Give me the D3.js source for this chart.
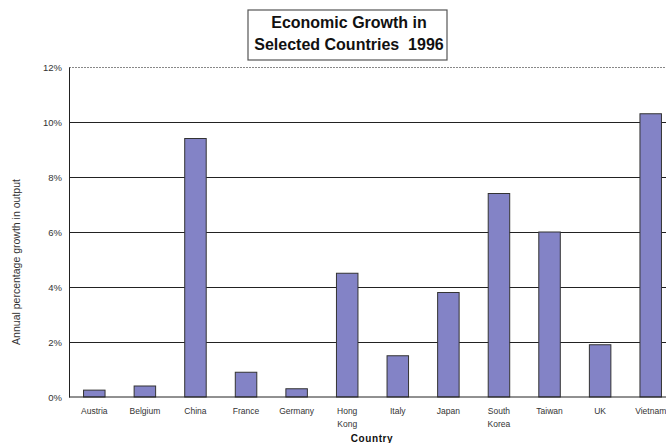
<!doctype html>
<html>
<head>
<meta charset="utf-8"/>
<title>Economic Growth in Selected Countries 1996</title>
<script src="https://d3js.org/d3.v7.min.js"></script>
<style>
  body { margin: 0; background: #fff; }
  text { font-family: "Liberation Sans", Arial, sans-serif; }
</style>
</head>
<body>
<div id="chart"></div>
<script>
// data
var countries = ["Austria", "Belgium", "China", "France", "Germany", "Hong Kong",
  "Italy", "Japan", "South Korea", "Taiwan", "UK", "Vietnam"];
var growth = [0.25, 0.4, 9.4, 0.9, 0.3, 4.5, 1.5, 3.8, 7.4, 6.0, 1.9, 10.3];
var yTicks = [0, 2, 4, 6, 8, 10, 12];
var titleLines = ["Economic Growth in", "Selected Countries  1996"];

var W = 666, H = 443;
var plotLeft = 69, plotRight = 676, plotTop = 67, plotBottom = 397;

var svg = d3.select("#chart").append("svg")
  .attr("width", W)
  .attr("height", H);

var x = d3.scaleBand()
  .domain(countries)
  .range([plotLeft, plotRight])
  .paddingInner(0.575)
  .paddingOuter(0.2875);

var y = d3.scaleLinear()
  .domain([0, 12])
  .range([plotBottom, plotTop]);

// gridlines
svg.append("g").selectAll("line")
  .data(yTicks.filter(function(d) { return d > 0; }))
  .enter().append("line")
  .attr("x1", plotLeft)
  .attr("x2", W)
  .attr("y1", function(d) { return y(d) + 0.5; })
  .attr("y2", function(d) { return y(d) + 0.5; })
  .attr("stroke", function(d) { return d == 12 ? "#888" : "#222"; })
  .attr("stroke-dasharray", function(d) { return d == 12 ? "2,1" : null; })
  .attr("stroke-width", 1);

// y axis
var yAxis = d3.axisLeft(y)
  .tickValues(yTicks)
  .tickSize(0)
  .tickPadding(7)
  .tickFormat(function(d) { return d + "%"; });

var gy = svg.append("g")
  .attr("transform", "translate(" + plotLeft + ",0)")
  .call(yAxis);
gy.select(".domain").attr("stroke", "#222");
gy.selectAll("text")
  .attr("font-size", "9.5px")
  .attr("fill", "#333")
  .style("font-family", "Liberation Sans, Arial, sans-serif");

// bars
svg.append("g").selectAll("rect")
  .data(countries)
  .enter().append("rect")
  .attr("x", function(d) { return x(d); })
  .attr("y", function(d, i) { return y(growth[i]); })
  .attr("width", x.bandwidth())
  .attr("height", function(d, i) { return plotBottom - y(growth[i]); })
  .attr("fill", "#8383c6")
  .attr("stroke", "#333")
  .attr("stroke-width", 1);

// baseline
svg.append("line")
  .attr("x1", plotLeft).attr("x2", W)
  .attr("y1", plotBottom).attr("y2", plotBottom)
  .attr("stroke", "#222");

// x labels (wrap two-word names)
var xl = svg.append("g").selectAll("text")
  .data(countries)
  .enter().append("text")
  .attr("x", function(d) { return x(d) + x.bandwidth() / 2; })
  .attr("y", 414)
  .attr("text-anchor", "middle")
  .attr("font-size", "8.5px")
  .attr("fill", "#333");
xl.each(function(d) {
  var words = d.split(" ");
  var t = d3.select(this);
  words.forEach(function(w, k) {
    t.append("tspan")
      .attr("x", t.attr("x"))
      .attr("dy", k == 0 ? 0 : 12.5)
      .text(w);
  });
});

// axis titles
svg.append("text")
  .attr("transform", "translate(20,262) rotate(-90)")
  .attr("text-anchor", "middle")
  .attr("font-size", "10.5px")
  .attr("fill", "#333")
  .text("Annual percentage growth in output");

svg.append("text")
  .attr("x", 372)
  .attr("y", 442)
  .attr("text-anchor", "middle")
  .attr("font-size", "10px")
  .attr("font-weight", "bold")
  .attr("letter-spacing", "0.6px")
  .attr("fill", "#111")
  .text("Country");

// title box
svg.append("rect")
  .attr("x", 248).attr("y", 10)
  .attr("width", 199).attr("height", 50)
  .attr("fill", "#fff")
  .attr("stroke", "#555")
  .attr("stroke-width", 1.2);

svg.append("g").selectAll("text")
  .data(titleLines)
  .enter().append("text")
  .attr("x", 349)
  .attr("y", function(d, i) { return 28 + i * 21.5; })
  .attr("text-anchor", "middle")
  .attr("font-size", "16px")
  .attr("font-weight", "bold")
  .attr("fill", "#111")
  .style("white-space", "pre")
  .text(function(d) { return d; });
</script>
</body>
</html>
